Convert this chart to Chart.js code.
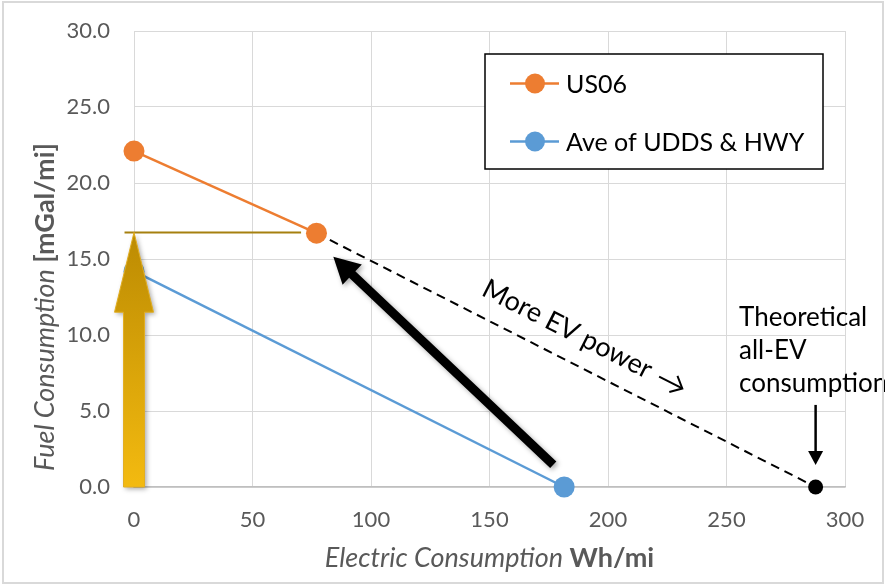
<!DOCTYPE html>
<html><head><meta charset="utf-8">
<script src="https://cdn.jsdelivr.net/npm/chart.js@4.4.1/dist/chart.umd.min.js"></script>
<style>html,body{margin:0;padding:0;background:#fff;overflow:hidden}#wrap{width:885px;height:585px;position:relative}</style>
</head><body><div id="wrap"><canvas id="c" width="885" height="585"></canvas></div>
<script>
// ---- data ----
const seriesNames = ['US06', 'Ave of UDDS & HWY'];
const us06X = [0, 77];
const us06Y = [22.1, 16.7];
const aveX = [0, 181.5];
const aveY = [14.2, 0];
const evLineX = [77, 287.6];
const evLineY = [16.7, 0];
const refLineX = [-4, 70.5];
const refLineY = [16.75, 16.75];
const xTickValues = [0, 50, 100, 150, 200, 250, 300];
const yTickValues = [0, 5, 10, 15, 20, 25, 30];
const xTitleParts = ['Electric Consumption', 'Wh/mi'];
const yTitleParts = ['Fuel Consumption', '[mGal/mi]'];
const goldArrow = {x: 0, yFrom: 0, yTo: 16.75, yHead: 11.5};
const blackArrow = {xFrom: 176.9, yFrom: 1.47, xTo: 84.1, yTo: 15.15};
const allEvArrow = {x: 287.6, yFrom: 5.4, yTo: 1.45};
const moreEvLabel = {text: 'More EV power', x: 189.5, y: 9.8};
const theoryLabel = {lines: ['Theoretical', 'all-EV', 'consumption'], x: 255.3, y: 10.6};

const pts = (xs, ys) => xs.map((x, i) => ({x, y: ys[i]}));
const ORANGE = '#ED7D31', BLUE = '#5B9BD5', GRAY = '#595959';
const FONT = 'Lato, "Open Sans", sans-serif';

const overlay = {
  id: 'overlay',
  beforeDraw(chart) {
    const c = chart.ctx; c.save(); c.fillStyle = '#fff'; c.fillRect(0, 0, chart.width, chart.height); c.restore();
  },
  afterDatasetsDraw(chart) {
    const c = chart.ctx, xs = chart.scales.x, ys = chart.scales.y;
    const X = v => xs.getPixelForValue(v), Y = v => ys.getPixelForValue(v);
    // gold arrow
    c.save();
    const gx = X(goldArrow.x), gb = Y(goldArrow.yFrom), gt = Y(goldArrow.yTo), gh = Y(goldArrow.yHead);
    const g = c.createLinearGradient(0, gb, 0, gt);
    g.addColorStop(0, '#F3BA10'); g.addColorStop(1, '#BC8B02');
    c.shadowColor = 'rgba(0,0,0,0.35)'; c.shadowBlur = 5; c.shadowOffsetX = 2; c.shadowOffsetY = 2;
    c.beginPath();
    c.moveTo(gx - 10.5, gb); c.lineTo(gx - 10.5, gh); c.lineTo(gx - 19.5, gh); c.lineTo(gx, gt);
    c.lineTo(gx + 19.5, gh); c.lineTo(gx + 10.5, gh); c.lineTo(gx + 10.5, gb); c.closePath();
    c.fillStyle = g; c.fill();
    c.shadowColor = 'transparent';
    c.lineWidth = 1; c.strokeStyle = '#E2AE22'; c.stroke();
    c.restore();
    // black arrow
    c.save();
    const ax0 = X(blackArrow.xFrom), ay0 = Y(blackArrow.yFrom), ax1 = X(blackArrow.xTo), ay1 = Y(blackArrow.yTo);
    const dx = ax1 - ax0, dy = ay1 - ay0, L = Math.hypot(dx, dy), ux = dx / L, uy = dy / L;
    const hl = 26, hw = 14;
    const bx = ax1 - ux * hl, by = ay1 - uy * hl;
    c.shadowColor = 'rgba(0,0,0,0.35)'; c.shadowBlur = 5; c.shadowOffsetX = 2; c.shadowOffsetY = 2;
    c.fillStyle = '#000';
    c.beginPath();
    c.moveTo(ax0 - uy * 4.5, ay0 + ux * 4.5);
    c.lineTo(bx - uy * 4.5, by + ux * 4.5);
    c.lineTo(bx - uy * hw, by + ux * hw);
    c.lineTo(ax1, ay1);
    c.lineTo(bx + uy * hw, by - ux * hw);
    c.lineTo(bx + uy * 4.5, by - ux * 4.5);
    c.lineTo(ax0 + uy * 4.5, ay0 - ux * 4.5);
    c.closePath(); c.fill();
    c.restore();
    // all-EV arrow
    c.save();
    const ex = X(allEvArrow.x), ey0 = Y(allEvArrow.yFrom), ey1 = Y(allEvArrow.yTo);
    c.strokeStyle = '#000'; c.fillStyle = '#000'; c.lineWidth = 2.5;
    c.beginPath(); c.moveTo(ex, ey0); c.lineTo(ex, ey1 - 12); c.stroke();
    c.beginPath(); c.moveTo(ex - 7.5, ey1 - 14); c.lineTo(ex + 7.5, ey1 - 14); c.lineTo(ex, ey1); c.closePath(); c.fill();
    c.restore();
    // "More EV power ->"
    c.save();
    const ang = Math.atan2(Y(evLineY[1]) - Y(evLineY[0]), X(evLineX[1]) - X(evLineX[0]));
    c.translate(X(moreEvLabel.x), Y(moreEvLabel.y));
    c.rotate(ang);
    c.font = '27px ' + FONT; c.fillStyle = '#000'; c.textBaseline = 'alphabetic'; c.textAlign = 'left';
    const tw = c.measureText(moreEvLabel.text).width, arrW = 26, gap = 10;
    const start = -(tw + gap + arrW) / 2;
    c.fillText(moreEvLabel.text, start, 8);
    const a0 = start + tw + gap, ay = 0;
    c.strokeStyle = '#000'; c.lineWidth = 2;
    c.beginPath(); c.moveTo(a0, ay); c.lineTo(a0 + arrW, ay); c.stroke();
    c.beginPath(); c.moveTo(a0 + arrW - 10, ay - 9); c.lineTo(a0 + arrW, ay); c.lineTo(a0 + arrW - 10, ay + 9); c.stroke();
    c.restore();
    // Theoretical label
    c.save();
    c.font = '26px ' + FONT; c.fillStyle = '#000'; c.textAlign = 'left'; c.textBaseline = 'alphabetic';
    theoryLabel.lines.forEach((t, i) => c.fillText(t, X(theoryLabel.x), Y(theoryLabel.y) + i * 33));
    c.restore();
  },
  afterDraw(chart) {
    const c = chart.ctx, ca = chart.chartArea;
    // legend
    c.save();
    c.fillStyle = '#fff'; c.fillRect(485, 54, 338, 115);
    c.strokeStyle = '#000'; c.lineWidth = 1.5; c.strokeRect(485, 54, 338, 115);
    const rows = [83.5, 141.5];
    chart.data.datasets.slice(0, 2).forEach((ds, i) => {
      const y = rows[i];
      c.strokeStyle = ds.borderColor; c.lineWidth = 2.5;
      c.beginPath(); c.moveTo(510, y); c.lineTo(559, y); c.stroke();
      c.fillStyle = ds.backgroundColor; c.beginPath(); c.arc(535, y, 10, 0, Math.PI * 2); c.fill();
      c.fillStyle = '#000'; c.font = '25px ' + FONT; c.textBaseline = 'middle'; c.textAlign = 'left';
      c.fillText(ds.label, 566, y + 1);
    });
    c.restore();
    // x title
    c.save();
    c.fillStyle = GRAY; c.textBaseline = 'alphabetic'; c.textAlign = 'left';
    const fi = 'italic 27px ' + FONT, fb = 'bold 27px ' + FONT;
    c.font = fi; const w1 = c.measureText(xTitleParts[0] + ' ').width;
    c.font = fb; const w2 = c.measureText(xTitleParts[1]).width;
    let sx = (ca.left + ca.right) / 2 - (w1 + w2) / 2;
    c.font = fi; c.fillText(xTitleParts[0] + ' ', sx, 567);
    c.font = fb; c.fillText(xTitleParts[1], sx + w1, 567);
    c.restore();
    // y title
    c.save();
    c.translate(54, 307); c.rotate(-Math.PI / 2);
    c.fillStyle = GRAY; c.textBaseline = 'alphabetic'; c.textAlign = 'left';
    c.font = fi; const v1 = c.measureText(yTitleParts[0] + ' ').width;
    c.font = fb; const v2 = c.measureText(yTitleParts[1]).width;
    const sy = -(v1 + v2) / 2;
    c.font = fi; c.fillText(yTitleParts[0] + ' ', sy, 0);
    c.font = fb; c.fillText(yTitleParts[1], sy + v1, 0);
    c.restore();
    // outer border
    c.save(); c.strokeStyle = '#D9D9D9'; c.lineWidth = 2; c.strokeRect(3, 2, 880, 581); c.restore();
  }
};

new Chart(document.getElementById('c'), {
  type: 'scatter',
  data: {
    datasets: [
      {label: seriesNames[0], data: pts(us06X, us06Y), showLine: true, borderColor: ORANGE, backgroundColor: ORANGE,
       borderWidth: 2.5, pointRadius: 10.5, pointHoverRadius: 10.5, pointBorderWidth: 0, clip: false},
      {label: seriesNames[1], data: pts(aveX, aveY), showLine: true, borderColor: BLUE, backgroundColor: BLUE,
       borderWidth: 2.5, pointRadius: 10.5, pointHoverRadius: 10.5, pointBorderWidth: 0, clip: false},
      {label: 'ev', data: pts(evLineX, evLineY), showLine: true, borderColor: '#000', backgroundColor: '#000',
       borderWidth: 2, borderDash: [9, 6], pointRadius: [0, 7.5], pointBorderWidth: 0, clip: false},
      {label: 'ref', data: pts(refLineX, refLineY), showLine: true, borderColor: '#A6800F', backgroundColor: '#A6800F',
       borderWidth: 2, pointRadius: 0, clip: false}
    ]
  },
  options: {
    responsive: false, animation: false,
    layout: {padding: {left: 0, top: 31, right: 40, bottom: 0}},
    plugins: {legend: {display: false}, tooltip: {enabled: false}},
    scales: {
      x: {
        type: 'linear', min: 0, max: 300,
        afterBuildTicks: s => { s.ticks = xTickValues.map(v => ({value: v})); },
        afterFit: s => { s.height = 98; s.paddingLeft = 0; s.paddingRight = 0; },
        grid: {color: '#D9D9D9', drawTicks: false, lineWidth: 1},
        border: {color: '#BFBFBF', width: 1.5},
        ticks: {color: GRAY, font: {family: FONT, size: 22}, padding: 20}
      },
      y: {
        type: 'linear', min: 0, max: 30,
        afterBuildTicks: s => { s.ticks = yTickValues.map(v => ({value: v})); },
        afterFit: s => { s.width = 134; s.paddingTop = 0; s.paddingBottom = 0; },
        grid: {color: '#D9D9D9', drawTicks: false, lineWidth: 1},
        border: {display: false},
        ticks: {color: GRAY, font: {family: FONT, size: 22}, padding: 24, callback: v => Number(v).toFixed(1)}
      }
    }
  },
  plugins: [overlay]
});
</script></body></html>
